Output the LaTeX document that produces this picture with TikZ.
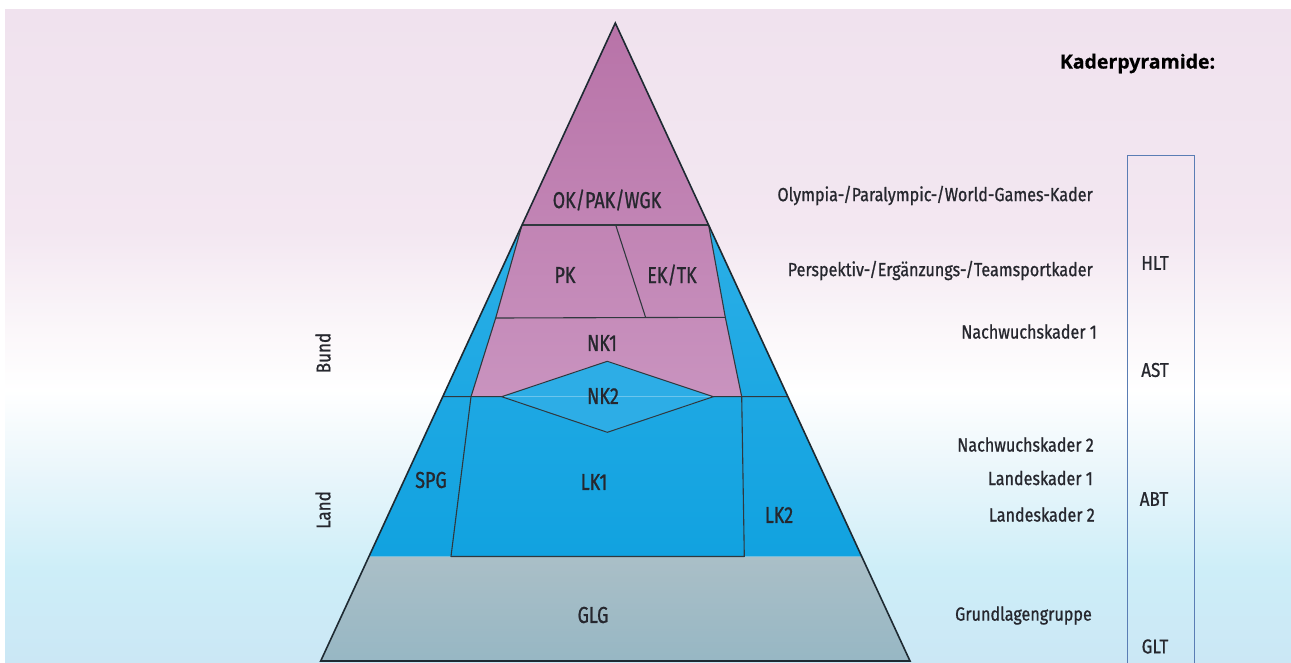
\documentclass[tikz,border=0pt]{standalone}
\usepackage{fontspec}
\setmainfont{Fira Sans}[FakeStretch=0.85, FakeBold=0.9]
\newfontfamily\pyrfont{Fira Sans}[FakeStretch=0.78, FakeBold=0.9]
\newfontfamily\titlefont{Open Sans}[FakeBold=0.6]
\usetikzlibrary{calc}
\definecolor{txt}{HTML}{26272E}
\definecolor{edge}{HTML}{1E2A32}
\definecolor{inner}{HTML}{30383E}
\definecolor{boxline}{HTML}{5A7DB4}
\definecolor{bgpinkA}{HTML}{F0E2EE}
\definecolor{bgpinkB}{HTML}{F3E7F1}
\definecolor{bgpinkC}{HTML}{FBF7FA}
\definecolor{bgwhite}{HTML}{FFFFFF}
\definecolor{bgblueA}{HTML}{EAF6FB}
\definecolor{bgblueB}{HTML}{CDEEF8}
\definecolor{bgblueC}{HTML}{CBE7F5}
\definecolor{pinkTop}{HTML}{B873A8}
\definecolor{pinkBot}{HTML}{C993BF}
\definecolor{blueTop}{HTML}{3AB6EA}
\definecolor{blueBot}{HTML}{11A2E0}
\definecolor{blueMid}{HTML}{2DADE6}
\definecolor{glgTop}{HTML}{AABFC7}
\definecolor{glgBot}{HTML}{97B7C4}
\begin{document}
\begin{tikzpicture}[x=1pt,y=-1pt,
  lab/.style={font=\pyrfont\fontsize{23}{25}\selectfont, text=txt, inner sep=0pt},
  rlab/.style={font=\fontsize{19}{21}\selectfont, text=txt, inner sep=0pt, anchor=east},
  sidelab/.style={font=\fontsize{20}{22}\selectfont, text=txt, inner sep=0pt, rotate=90},
  boxlab/.style={font=\fontsize{20}{22}\selectfont, text=txt, inner sep=0pt},
  outerline/.style={draw=edge, line width=1.6pt, line join=miter},
  innerline/.style={draw=inner, line width=1.1pt, line join=round}]
\useasboundingbox (0,0) rectangle (1291,662);
\fill[white] (0,0) rectangle (1291,662);
% background bands
\shade[top color=bgpinkA, bottom color=bgpinkB] (5,9) rectangle (1291,231);
\shade[top color=bgpinkB, bottom color=bgpinkC] (5,230) rectangle (1291,331);
\shade[top color=bgpinkC, bottom color=bgwhite] (5,330) rectangle (1291,391);
\shade[top color=bgwhite, bottom color=bgblueA] (5,390) rectangle (1291,471);
\shade[top color=bgblueA, bottom color=bgblueB] (5,470) rectangle (1291,571);
\shade[top color=bgblueB, bottom color=bgblueC] (5,570) rectangle (1291,662);
% key points
\coordinate (A) at (615.3,23);
\coordinate (BL) at (320.7,661);
\coordinate (BR) at (910,661);
\coordinate (L225) at ($(A)!0.3166!(BL)$);
\coordinate (R225) at ($(A)!0.3166!(BR)$);
\coordinate (L397) at ($(A)!0.5857!(BL)$);
\coordinate (R397) at ($(A)!0.5857!(BR)$);
\coordinate (L557) at ($(A)!0.8365!(BL)$);
\coordinate (R557) at ($(A)!0.8365!(BR)$);
\coordinate (pkL) at (495.7,318);
\coordinate (pkR) at (725.3,317.3);
\coordinate (nkL) at (471,396.7);
\coordinate (nkR) at (741.7,396.7);
\coordinate (lkL) at (451,556.5);
\coordinate (lkR) at (744.3,556.5);
\coordinate (divT) at (615.7,225);
\coordinate (divB) at (645.7,317.7);
\coordinate (dL) at (501.7,396.7);
\coordinate (dT) at (607.3,361.3);
\coordinate (dR) at (713.3,396.7);
\coordinate (dB) at (607.3,432.3);
% fills
\shade[top color=blueTop, bottom color=blueBot] (A) -- (L557) -- (R557) -- cycle;
\shade[top color=pinkTop, bottom color=pinkBot] (A) -- (L225) -- (pkL) -- (nkL) -- (nkR) -- (pkR) -- (R225) -- cycle;
\fill[blueMid] (dL) -- (dT) -- (dR) -- (dB) -- cycle;
\shade[top color=glgTop, bottom color=glgBot] (L557) -- (R557) -- (BR) -- (BL) -- cycle;
% inner lines
\draw[innerline] (L225) -- (R225);
\draw[innerline] (pkL) -- (pkR);
\draw[innerline] (divT) -- (divB);
\draw[innerline] (L225) -- (pkL) -- (nkL) -- (lkL) -- (lkR) -- (nkR) -- (pkR) -- (R225);
\draw[draw=inner, line width=1pt] (L397) -- (dL);
\draw[draw=inner, line width=1pt] (dR) -- (R397);
\draw[draw=white, opacity=0.3, line width=0.8pt] (dL) -- (dR);
\draw[draw=inner, line width=1pt, line join=miter] (dL) -- (dT) -- (dR) -- (dB) -- cycle;
% outer outline
\draw[outerline] (BL) -- (A) -- (BR) -- cycle;
% pyramid labels
\node[lab] (ok) at (607,200) {OK/PAK/WGK};
\node[lab] (pk) at (565,275) {PK};
\node[lab] (ek) at (672,275) {EK/TK};
\node[lab] (nk1) at (602,343) {NK1};
\node[lab] (nk2) at (603,396) {NK2};
\node[lab] (spg) at (431,480) {SPG};
\node[lab] (lk1) at (594,482) {LK1};
\node[lab] (lk2) at (779,515) {LK2};
\node[lab] (glg) at (593,615) {GLG};
% side labels
\node[sidelab] (bund) at (323,353) {Bund};
\node[sidelab] (land) at (323,510) {Land};
% right labels
\node[rlab] (r1) at (1093,195.5) {Olympia-/Paralympic-/World-Games-Kader};
\node[rlab] (r2) at (1093,270.5) {Perspektiv-/Ergänzungs-/Teamsportkader};
\node[rlab] (r3) at (1097,331.5) {Nachwuchskader 1};
\node[rlab] (r4) at (1094,444.5) {Nachwuchskader 2};
\node[rlab] (r5) at (1093,478) {Landeskader 1};
\node[rlab] (r6) at (1095,514.5) {Landeskader 2};
\node[rlab] (r7) at (1092,615.5) {Grundlagengruppe};
% title
\node[font=\titlefont\bfseries\fontsize{19.5}{21}\selectfont, text=black, inner sep=0pt] (title) at (1137.5,63.5) {Kaderpyramide:};
% right box
\draw[draw=boxline, line width=1pt] (1127.3,663) -- (1127.3,155) -- (1194.3,155) -- (1194.3,663);
\node[boxlab] (hlt) at (1155,263) {HLT};
\node[boxlab] (ast) at (1155,370) {AST};
\node[boxlab] (abt) at (1154,499) {ABT};
\node[boxlab] (glt) at (1155,646.5) {GLT};
\end{tikzpicture}
\end{document}
